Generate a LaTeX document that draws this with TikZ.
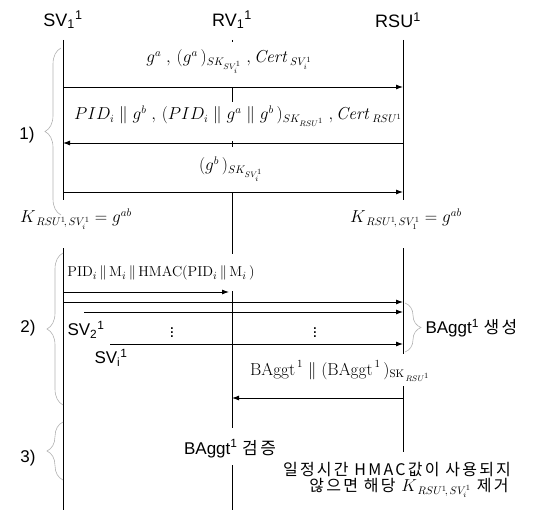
\documentclass[tikz,border=0pt]{standalone}
\usepackage{amsmath}
\usepackage[no-math]{fontspec}
\setmainfont{Liberation Sans}
\newfontfamily\kr{Noto Sans CJK KR}[LetterSpace=14]
\usetikzlibrary{positioning, arrows.meta, decorations.pathreplacing}
\newcommand{\ssb}[2]{\textsubscript{#1}\textsuperscript{#2}}

\begin{document}
\begin{tikzpicture}[x=1pt, y=-1pt,
  life/.style={line width=0.9pt},
  msg/.style={line width=0.9pt, -{Latex[length=7pt,width=5pt]}},
  head/.style={font=\fontsize{18}{21}\selectfont},
  lbl/.style={font=\fontsize{17}{20}\selectfont},
  mlbl/.style={font=\fontsize{16}{19}\selectfont, fill=white, inner sep=1pt, anchor=base},
  grp/.style={draw=gray!60, line width=0.6pt, decorate, decoration={brace, amplitude=16pt}}]
  \useasboundingbox (0,0) rectangle (535,510);
  % participants and lifelines
  \node[head] (svh) at (63,20) {SV\ssb{1}{1}};
  \node[head] (rvh) at (232,20) {RV\ssb{1}{1}};
  \node[head] (rsuh) at (398,20) {RSU\textsuperscript{1}};
  \coordinate (sv) at (63,40);  \coordinate (svend) at (63,510);
  \coordinate (rv) at (232,40); \coordinate (rvend) at (232,510);
  \coordinate (rsu) at (403,40); \coordinate (rsuend) at (403,452);
  \draw[life] (sv) -- (svend);
  \draw[life] (rv) -- (rvend);
  \draw[life] (rsu) -- (rsuend);

  % 1) key agreement
  \node[mlbl, text height=20pt, text depth=23pt] (m1) at (229,63) {$g^{a}\;,\,(g^{a}\,)_{SK_{SV_i^1}}\;,\mathit{Cert}_{\,SV_i^1}$};
  \node[mlbl, text height=17pt, text depth=20pt] (m2) at (238,120) {$PID_i \;\|\; g^{b}\;,\,(PID_i \;\|\; g^{a} \;\|\; g^{b}\,)_{SK_{RSU^1}}\;,\mathit{Cert}_{\,RSU^1}$};
  \node[mlbl, text height=23pt, text depth=20pt] (m3) at (231,171) {$(g^{b}\,)_{SK_{SV_i^1}}$};
  \node[mlbl, text height=22pt, text depth=24pt] (kl) at (76,223) {$K_{\,RSU^1\!,\,SV_i^1} = g^{ab}$};
  \node[mlbl, text height=22pt, text depth=24pt] (kr) at (406,223) {$K_{\,RSU^1\!,\,SV_1^1} = g^{ab}$};
  \foreach \y/\a/\b in {87/sv/rsu, 143/rsu/sv, 192/sv/rsu}
    \draw[msg] (\a |- 0,\y) -- (\b |- 0,\y);

  % 2) messages and aggregation
  \node[mlbl, font=\fontsize{15}{18}\selectfont, text height=22pt, text depth=13pt] (m4) at (161,277) {$\mathrm{PID}_i \,\|\, \mathrm{M}_i \,\|\, \mathrm{HMAC}(\mathrm{PID}_i \,\|\, \mathrm{M}_i\,)$};
  \coordinate (sv2) at (84,312);
  \coordinate (svi) at (110,344);
  \draw[msg, shorten >=3pt] (sv |- 0,292) -- (rv |- 0,292);
  \draw[msg] (sv |- 0,302) -- (rsu |- 0,302);
  \draw[msg] (sv2) -- (rsu |- sv2);
  \draw[msg] (svi) -- (rsu |- svi);
  \node[lbl] (sv2l) at (86,330) {SV\ssb{2}{1}};
  \node[lbl] (svil) at (111,358) {SV\ssb{i}{1}};
  \node[lbl] (dot1) at (172,330) {$\vdots$};
  \node[lbl] (dot2) at (315,330) {$\vdots$};
  \coordinate (ba) at (405,303);
  \coordinate (bb) at (405,352);
  \draw[grp] (ba) -- (bb);
  \node[lbl, anchor=west] (gen) at (422,328) {BAggt\textsuperscript{1} {\kr 생성}};
  \node[mlbl, text height=20pt, text depth=10pt] (m5) at (340,375) {$\mathrm{BAggt}^{\,1} \;\|\; (\mathrm{BAggt}^{\,1}\,)_{\mathrm{SK}_{\,RSU^1}}$};
  \draw[msg] (rsu |- 0,398) -- (rv |- 0,398);

  % 3) verification
  \node[lbl, fill=white, inner sep=1pt, anchor=base, text height=25pt, text depth=10pt] (ver) at (230,454) {BAggt\textsuperscript{1} {\kr 검증}};
  \node[lbl, font=\fontsize{16}{19}\selectfont] (kr1) at (397,470) {\kr 일정시간 HMAC값이 사용되지};
  \node[lbl, font=\fontsize{16}{19}\selectfont] (kr2) at (409,488) {\kr 않으면 해당 $K_{\,RSU^1\!,\,SV_i^1}$ 제거};

  % phase braces
  \draw[grp] (61,215) -- (61,48);
  \draw[grp] (63,405) -- (63,253);
  \draw[grp] (63,480) -- (63,422);
  \node[lbl] (p1) at (27,135) {1)};
  \node[lbl] (p2) at (28,328) {2)};
  \node[lbl] (p3) at (28,458) {3)};
\end{tikzpicture}
\end{document}
